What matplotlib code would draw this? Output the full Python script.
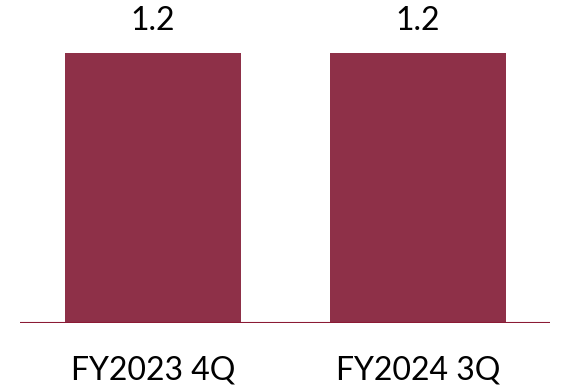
import matplotlib.pyplot as plt

categories = ['FY2023 4Q', 'FY2024 3Q']
values = [1.2, 1.2]

bar_color = '#8E3048'
line_color = '#8B1A35'

fig = plt.figure(figsize=(5.61, 3.88), dpi=100)
ax = fig.add_axes([20 / 561, 65 / 388, 530 / 561, 323 / 388])

x = range(len(categories))
ax.bar(x, values, width=0.664, color=bar_color, zorder=2)
ax.axhline(0, color=line_color, linewidth=1.5, zorder=3)

ax.set_xlim(-0.502, 1.498)
ax.set_ylim(0, 1.2 * 323 / 270)
ax.axis('off')

for xi, v, cat in zip(x, values, categories):
    ax.text(xi, v + 0.14, f'{v:.1f}', ha='center', va='center',
            fontsize=23, family='Lato', color='black')
    ax.text(xi, -0.213, cat, ha='center', va='center',
            fontsize=23, family='Lato', color='black', clip_on=False)

fig.savefig('out.png', dpi=100)
